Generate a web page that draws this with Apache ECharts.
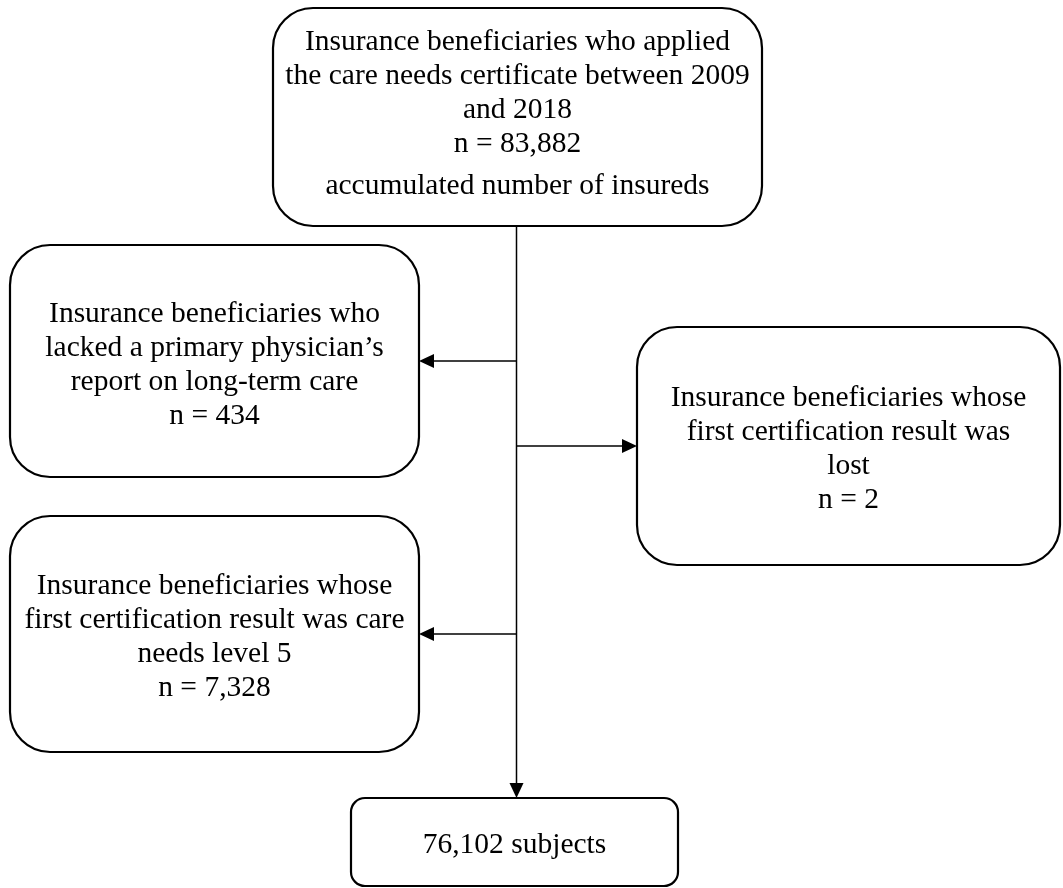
<!DOCTYPE html>
<html><head><meta charset="utf-8">
<script src="https://cdn.jsdelivr.net/npm/echarts@6/dist/echarts.min.js"></script>
<style>html,body{margin:0;padding:0;background:#fff}#c{width:1063px;height:888px}</style>
</head><body><div id="c"></div>
<script>
// ---- content ----
const boxLines = [
  ["Insurance beneficiaries who applied", "the care needs certificate between 2009", "and 2018"],
  ["Insurance beneficiaries who", "lacked a primary physician’s", "report on long-term care"],
  ["Insurance beneficiaries whose", "first certification result was", "lost"],
  ["Insurance beneficiaries whose", "first certification result was care", "needs level 5"],
  []
];
const counts = [83882, 434, 2, 7328, 76102];
const countPrefix = ["n = ", "n = ", "n = ", "n = ", ""];
const countSuffix = ["", "", "", "", " subjects"];
const notes = ["accumulated number of insureds", "", "", "", ""];

// ---- layout (canvas units) ----
const boxX0 = [273, 10, 637, 10, 351];
const boxY0 = [8, 245, 327, 516, 798];
const boxX1 = [762, 419, 1060, 419, 678];
const boxY1 = [226, 477, 565, 752, 886];
const boxR  = [40, 40, 40, 40, 14];
const textDy = [1, 4, 3, 3, 3];
const linkFrom = [[516.5, 226], [516.5, 361], [516.5, 446], [516.5, 634]];
const linkTo   = [[516.5, 798], [419, 361], [637, 446], [419, 634]];

const FONT = "'Liberation Serif','Times New Roman',serif";
const FS = 29.5;
const fmt = v => v.toLocaleString('en-US');

const boxTexts = boxLines.map((lines, i) => {
  const parts = lines.map(l => '{t|' + l + '}');
  parts.push('{t|' + countPrefix[i] + fmt(counts[i]) + countSuffix[i] + '}');
  if (notes[i]) parts.push('{g|' + notes[i] + '}');
  return parts.join('\n');
});

const boxData = boxX0.map((x, i) => [x, boxY0[i], boxX1[i], boxY1[i]]);
const linkData = linkFrom.map((p, i) => [p[0], p[1], linkTo[i][0], linkTo[i][1]]);

const chart = echarts.init(document.getElementById('c'), null, {renderer: 'canvas'});
chart.setOption({
  backgroundColor: '#ffffff',
  animation: false,
  grid: {left: 0, right: 0, top: 0, bottom: 0},
  xAxis: {type: 'value', min: 0, max: 1063, show: false},
  yAxis: {type: 'value', min: 0, max: 888, inverse: true, show: false},
  series: [
    {
      type: 'custom',
      clip: false,
      data: linkData,
      renderItem(params, api) {
        const a = api.coord([api.value(0), api.value(1)]);
        const b = api.coord([api.value(2), api.value(3)]);
        const dx = b[0] - a[0], dy = b[1] - a[1];
        const len = Math.hypot(dx, dy);
        const ux = dx / len, uy = dy / len;
        const L = 15, W = 7;
        const bx = b[0] - ux * L, by = b[1] - uy * L;
        return {
          type: 'group',
          children: [
            {type: 'line', shape: {x1: a[0], y1: a[1], x2: bx, y2: by},
             style: {stroke: '#000', lineWidth: 1.5}},
            {type: 'polygon', shape: {points: [[b[0], b[1]], [bx - uy * W, by + ux * W], [bx + uy * W, by - ux * W]]},
             style: {fill: '#000'}}
          ]
        };
      }
    },
    {
      type: 'custom',
      clip: false,
      data: boxData,
      renderItem(params, api) {
        const i = params.dataIndex;
        const p0 = api.coord([api.value(0), api.value(1)]);
        const p1 = api.coord([api.value(2), api.value(3)]);
        const x = Math.min(p0[0], p1[0]), y = Math.min(p0[1], p1[1]);
        const w = Math.abs(p1[0] - p0[0]), h = Math.abs(p1[1] - p0[1]);
        return {
          type: 'group',
          children: [
            {type: 'rect', shape: {x: x, y: y, width: w, height: h, r: boxR[i]},
             style: {fill: '#fff', stroke: '#000', lineWidth: 2.2}},
            {type: 'text', x: x + w / 2, y: y + h / 2 + textDy[i],
             style: {
               text: boxTexts[i], align: 'center', verticalAlign: 'middle', fill: '#000',
               fontFamily: FONT, fontSize: FS,
               rich: {
                 t: {fontFamily: FONT, fontSize: FS, lineHeight: 34, fill: '#000'},
                 g: {fontFamily: FONT, fontSize: FS, lineHeight: 50, fill: '#000'}
               }
             }}
          ]
        };
      }
    }
  ]
});
</script>
</body></html>
